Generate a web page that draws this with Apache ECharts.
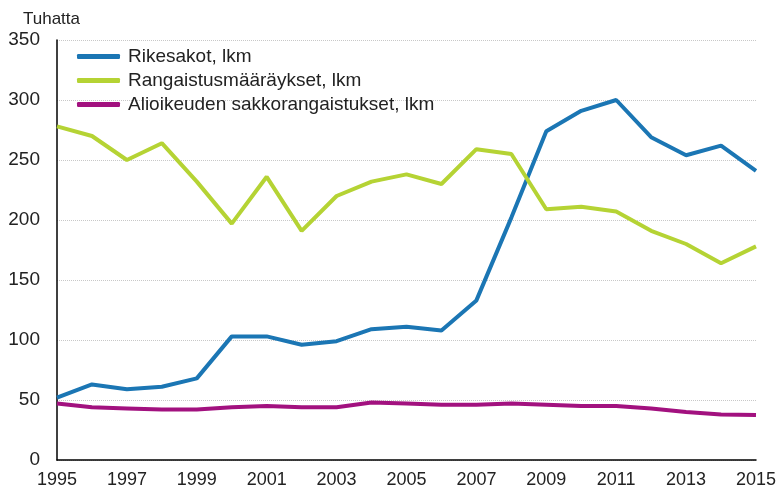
<!DOCTYPE html>
<html>
<head>
<meta charset="utf-8">
<script src="https://cdn.jsdelivr.net/npm/echarts@6/dist/echarts.min.js"></script>
<style>
  html, body { margin: 0; padding: 0; background: #fff; }
  #chart { width: 780px; height: 492px; }
</style>
</head>
<body>
<div id="chart"></div>
<script>
const years = ['1995', '1996', '1997', '1998', '1999', '2000', '2001', '2002', '2003', '2004', '2005',
  '2006', '2007', '2008', '2009', '2010', '2011', '2012', '2013', '2014', '2015']
const rikesakot = [52, 63, 59, 61, 68, 103, 103, 96, 99, 109, 111, 108, 133, 202, 274, 291, 300, 269, 254, 262, 241]
const rangaistusmaaraykset = [278, 270, 250, 264, 232, 197, 236, 191, 220, 232, 238, 230, 259, 255, 209, 211, 207, 191, 180, 164, 178]
const alioikeudet = [47, 44, 43, 42, 42, 44, 45, 44, 44, 48, 47, 46, 46, 47, 46, 45, 45, 43, 40, 38, 37.5]

const names = ['Rikesakot, lkm', 'Rangaistusmääräykset, lkm', 'Alioikeuden sakkorangaistukset, lkm']
const colors = ['#1b76b4', '#b5d334', '#a2117f']

const font = 'Liberation Sans, Arial, sans-serif'

function lineSeries (name, data, color) {
  return {
    name: name,
    type: 'line',
    data: data,
    symbol: 'none',
    lineStyle: { color: color, width: 4 },
    itemStyle: { color: color }
  }
}

const chart = echarts.init(document.getElementById('chart'))
chart.setOption({
  animation: false,
  color: colors,
  grid: { left: 57, right: 24, top: 40, bottom: 32 },
  legend: {
    orient: 'vertical',
    left: 72,
    top: 42,
    icon: 'roundRect',
    itemWidth: 43,
    itemHeight: 5,
    itemGap: 5,
    textStyle: { fontFamily: font, fontSize: 19, color: '#222', lineHeight: 18, padding: [0, 0, 0, 3] },
    data: names
  },
  graphic: [{
    type: 'text',
    left: 23,
    top: 11,
    style: { text: 'Tuhatta', font: '17px ' + font, fill: '#222' }
  }],
  xAxis: {
    type: 'category',
    data: years,
    boundaryGap: false,
    axisLine: { lineStyle: { color: '#000', width: 1.5 } },
    axisTick: { show: false },
    axisLabel: { interval: 1, fontFamily: font, fontSize: 18, color: '#222', margin: 11 },
    splitLine: { show: false }
  },
  yAxis: {
    type: 'value',
    min: 0,
    max: 350,
    interval: 50,
    axisLine: { show: true, lineStyle: { color: '#000', width: 1.5 } },
    axisTick: { show: false },
    axisLabel: { fontFamily: font, fontSize: 19, color: '#222', margin: 17 },
    splitLine: { lineStyle: { color: '#c8c8c8', type: 'dotted', width: 1 } }
  },
  series: [
    lineSeries(names[0], rikesakot, colors[0]),
    lineSeries(names[1], rangaistusmaaraykset, colors[1]),
    lineSeries(names[2], alioikeudet, colors[2])
  ]
})
</script>
</body>
</html>
